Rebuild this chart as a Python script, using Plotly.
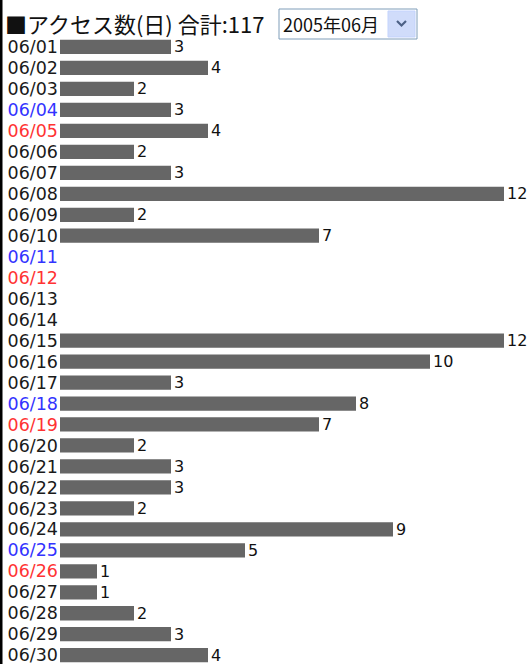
import plotly.graph_objects as go

dates = ["06/%02d" % d for d in range(1, 31)]
visits = [3, 4, 2, 3, 4, 2, 3, 12, 2, 7,
          0, 0, 0, 0, 12, 10, 3, 8, 7, 2,
          3, 3, 2, 9, 5, 1, 1, 2, 3, 4]
# day type: 0 = weekday, 1 = Saturday, 2 = Sunday
day_type = [0, 0, 0, 1, 2, 0, 0, 0, 0, 0,
            1, 2, 0, 0, 0, 0, 0, 1, 2, 0,
            0, 0, 0, 0, 1, 2, 0, 0, 0, 0]
title_text = "■アクセス数(日) 合計:117"
month_text = "2005年06月"

W, H = 531, 664
label_colors = {0: "#1a1a1a", 1: "#3333ff", 2: "#ff3333"}
ticktext = ["<span style='color:%s'>%s</span>" % (label_colors[t], d)
            for d, t in zip(dates, day_type)]
bar_text = [str(v) if v > 0 else "" for v in visits]

fig = go.Figure(go.Bar(
    x=visits, y=dates, orientation="h",
    marker=dict(color="#666666", line=dict(width=0)),
    width=0.68,
    text=bar_text, textposition="outside", cliponaxis=False,
    constraintext="none",
    textfont=dict(family="DejaVu Sans", size=16, color="#111111"),
))

x0 = 60 / W
fig.update_layout(
    width=W, height=H,
    margin=dict(l=0, r=0, t=0, b=0),
    paper_bgcolor="white", plot_bgcolor="white",
    showlegend=False,
    xaxis=dict(domain=[x0, 1], range=[0, (W - 60) / 37.0], visible=False,
               fixedrange=True),
    yaxis=dict(domain=[0, 1], range=[29.42, -2.24], type="category",
               categoryarray=dates, categoryorder="array",
               tickvals=dates, ticktext=ticktext, ticks="",
               ticklabelstandoff=1, automargin=False, showgrid=False,
               zeroline=False, showline=False,
               tickfont=dict(family="DejaVu Sans", size=17.5, color="#1a1a1a")),
    font=dict(family="DejaVu Sans"),
    shapes=[
        # left border
        dict(type="rect", xref="paper", yref="paper", x0=0, x1=2.5 / W,
             y0=0, y1=1, line=dict(width=0), fillcolor="black", layer="above"),
        # dropdown box
        dict(type="rect", xref="paper", yref="paper",
             x0=279 / W, x1=417 / W, y0=1 - 39 / H, y1=1 - 9 / H,
             line=dict(color="#7f9db9", width=1), fillcolor="white"),
        # dropdown button
        dict(type="rect", xref="paper", yref="paper",
             x0=388 / W, x1=415 / W, y0=1 - 37 / H, y1=1 - 11 / H,
             line=dict(color="#c3d3fd", width=1), fillcolor="#d0dcfa"),
        # chevron
        dict(type="path", xref="paper", yref="paper",
             path="M %f %f L %f %f L %f %f" % (397 / W, 1 - 21 / H, 401.5 / W, 1 - 25.5 / H,
                                                406 / W, 1 - 21 / H),
             line=dict(color="#4d6185", width=2.2)),
    ],
    annotations=[
        dict(text=title_text, xref="paper", yref="paper", x=3 / W, y=1 - 23 / H,
             xanchor="left", yanchor="middle", showarrow=False,
             font=dict(family="Noto Sans CJK JP", size=22, color="#111111")),
        dict(text=month_text, xref="paper", yref="paper", x=281 / W, y=1 - 24 / H,
             xanchor="left", yanchor="middle", showarrow=False,
             font=dict(family="Noto Sans CJK JP", size=18, color="#111111")),
    ],
)

fig.write_html("out.html", config={"displayModeBar": False},
               post_script="document.body.style.margin='0';document.body.style.overflow='hidden';")
